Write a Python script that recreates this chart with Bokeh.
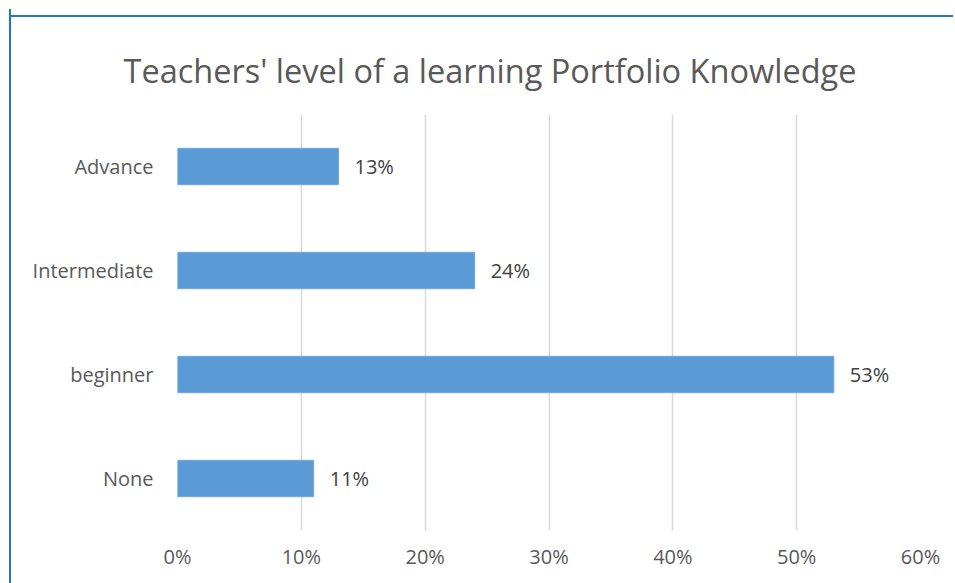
from bokeh.plotting import figure
from bokeh.models import ColumnDataSource, FactorRange, Range1d, FixedTicker, NumeralTickFormatter, LabelSet
from bokeh.core.properties import value
from bokeh.embed import file_html
from bokeh.resources import INLINE

categories = ["None", "beginner", "Intermediate", "Advance"]
values = [0.11, 0.53, 0.24, 0.13]
labels = ["11%", "53%", "24%", "13%"]
x_ticks = [0.0, 0.1, 0.2, 0.3, 0.4, 0.5, 0.6]

FONT = "Open Sans"
BLUE = "#1F78C8"

src = ColumnDataSource(dict(cat=categories, val=values, lab=labels))

p = figure(width=944, height=574, output_backend="svg", toolbar_location=None,
           y_range=FactorRange(factors=categories, range_padding=0),
           x_range=Range1d(0, 0.6),
           title="Teachers' level of a learning Portfolio Knowledge",
           min_border_left=166, min_border_right=35, min_border_top=105, min_border_bottom=53)
p.styles = {"margin-left": "9px", "margin-top": "9px",
            "border-left": f"2px solid {BLUE}",
            "background": f"linear-gradient({BLUE}, {BLUE}) 0px 6px / 100% 2px no-repeat, #ffffff"}
p.border_fill_color = None
p.background_fill_color = "#ffffff"

p.title.text_font = FONT
p.title.text_font_size = "32.5px"
p.title.text_font_style = "normal"
p.title.text_color = "#595959"
p.title.align = "left"
p.title.offset = -54
p.title.standoff = 40
p.title.vertical_align = "top"

p.hbar(y="cat", right="val", left=0, height=0.35, source=src,
       fill_color="#5B9BD5", line_color="#6FA8DC", line_width=1)

p.add_layout(LabelSet(x="val", y="cat", text="lab", source=src, x_offset=16,
                      text_baseline="middle", text_font=value(FONT), text_font_size=value("20px"),
                      text_color="#404040"))

p.outline_line_color = None
p.ygrid.grid_line_color = None
p.xgrid.grid_line_color = "#D9D9D9"
p.xgrid.grid_line_width = 1.5
p.xgrid.ticker = FixedTicker(ticks=x_ticks)

p.xaxis.ticker = FixedTicker(ticks=x_ticks)
p.xaxis.formatter = NumeralTickFormatter(format="0%")
for ax in (p.xaxis[0], p.yaxis[0]):
    ax.axis_line_color = None
    ax.major_tick_line_color = None
    ax.minor_tick_line_color = None
    ax.major_label_text_font = FONT
    ax.major_label_text_font_size = "20px"
    ax.major_label_text_color = "#595959"
p.xaxis.major_label_standoff = 6
p.yaxis.major_label_standoff = 18

open("out.html", "w").write(file_html(p, INLINE))
